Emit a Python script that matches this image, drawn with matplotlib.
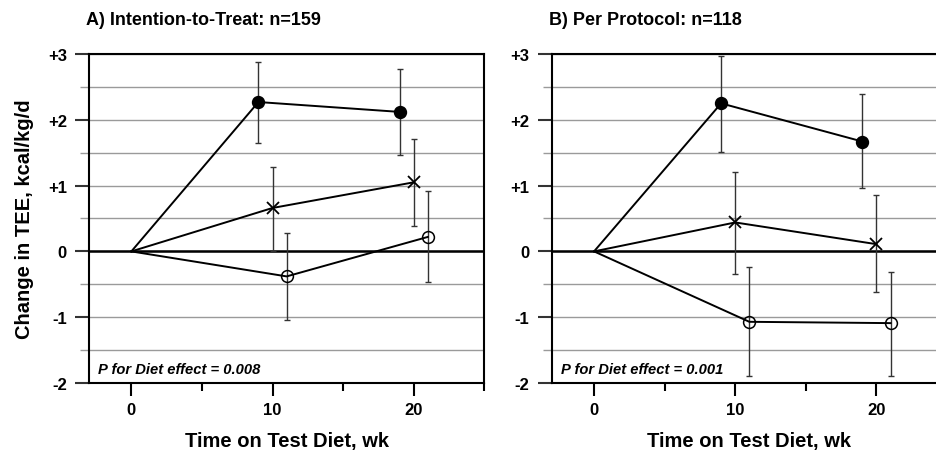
import numpy as np
import matplotlib
matplotlib.use('Agg')
import matplotlib.pyplot as plt
from matplotlib.ticker import MultipleLocator, FuncFormatter

plt.rcParams['font.family'] = ['Liberation Sans', 'DejaVu Sans']

# Data (weeks on test diet, change in TEE kcal/kg/d)
# A) Intention-to-Treat
a_fill_x = [0, 9, 19]
a_fill_y = [0, 2.27, 2.12]
a_fill_lo = [0, 1.64, 1.47]
a_fill_hi = [0, 2.88, 2.77]

a_x_x = [0, 10, 20]
a_x_y = [0, 0.66, 1.05]
a_x_lo = [0, 0.01, 0.38]
a_x_hi = [0, 1.29, 1.71]

a_open_x = [0, 11, 21]
a_open_y = [0, -0.38, 0.22]
a_open_lo = [0, -1.04, -0.46]
a_open_hi = [0, 0.28, 0.92]

# B) Per Protocol
b_fill_x = [0, 9, 19]
b_fill_y = [0, 2.25, 1.67]
b_fill_lo = [0, 1.51, 0.97]
b_fill_hi = [0, 2.97, 2.39]

b_x_x = [0, 10, 20]
b_x_y = [0, 0.44, 0.11]
b_x_lo = [0, -0.34, -0.61]
b_x_hi = [0, 1.20, 0.85]

b_open_x = [0, 11, 21]
b_open_y = [0, -1.07, -1.09]
b_open_lo = [0, -1.90, -1.90]
b_open_hi = [0, -0.24, -0.31]

titles = ['A) Intention-to-Treat: n=159', 'B) Per Protocol: n=118']
p_texts = ['P for Diet effect = 0.008', 'P for Diet effect = 0.001']


def draw_series(ax, x, y, lo, hi, marker, mfc):
    x = np.array(x)
    y = np.array(y)
    lo = np.array(lo)
    hi = np.array(hi)
    # error bars only for measured points (skip baseline)
    ax.errorbar(x[1:], y[1:], yerr=[y[1:] - lo[1:], hi[1:] - y[1:]],
                fmt='none', ecolor='#333333', elinewidth=1.0,
                capsize=2.2, capthick=1.0, zorder=3)
    ax.plot(x, y, color='black', lw=1.4, zorder=4)
    if marker == 'x':
        ax.plot(x[1:], y[1:], linestyle='none', marker='x', ms=8,
                mew=1.3, color='black', zorder=5)
    else:
        ax.plot(x[1:], y[1:], linestyle='none', marker='o', ms=8.5,
                mfc=mfc, mec='black', mew=1.1, zorder=5)


fig = plt.figure(figsize=(9.36, 4.56), dpi=100)
ax_a = fig.add_axes([89/936, 1-384/456, 395.3/936, 329/456])
ax_b = fig.add_axes([551.7/936, 1-384/456, 395.3/936, 329/456])

panels = [
    (ax_a, [(a_fill_x, a_fill_y, a_fill_lo, a_fill_hi, 'o', 'black'),
            (a_x_x, a_x_y, a_x_lo, a_x_hi, 'x', 'none'),
            (a_open_x, a_open_y, a_open_lo, a_open_hi, 'o', 'none')]),
    (ax_b, [(b_fill_x, b_fill_y, b_fill_lo, b_fill_hi, 'o', 'black'),
            (b_x_x, b_x_y, b_x_lo, b_x_hi, 'x', 'none'),
            (b_open_x, b_open_y, b_open_lo, b_open_hi, 'o', 'none')]),
]

fmt = FuncFormatter(lambda v, p: '0' if abs(v) < 1e-9 else ('%+d' % v))

for i, (ax, series) in enumerate(panels):
    for s in series:
        draw_series(ax, *s)
    ax.set_xlim(-3, 25)
    ax.set_ylim(-2, 3)
    ax.xaxis.set_major_locator(MultipleLocator(10))
    ax.xaxis.set_minor_locator(MultipleLocator(5))
    ax.yaxis.set_major_locator(MultipleLocator(1))
    ax.yaxis.set_minor_locator(MultipleLocator(0.5))
    ax.yaxis.set_major_formatter(fmt)
    ax.grid(True, which='both', axis='y', color='#9a9a9a', lw=1.0, zorder=1)
    ax.axhline(0, color='black', lw=1.8, zorder=2)
    ax.tick_params(axis='x', which='major', length=9, width=1.5, direction='out',
                   labelsize=12, pad=5)
    ax.tick_params(axis='x', which='minor', length=6, width=1.5, direction='out')
    ax.tick_params(axis='y', which='major', length=10, width=1.5, color='#333333',
                   labelsize=12, pad=6)
    ax.tick_params(axis='y', which='minor', length=6.5, width=1.0, color='#9a9a9a')
    for lab in ax.get_xticklabels() + ax.get_yticklabels():
        lab.set_fontweight('bold')
    for sp in ax.spines.values():
        sp.set_linewidth(1.5)
    ax.set_xlabel('Time on Test Diet, wk', fontsize=14.5, fontweight='bold', labelpad=10)
    ax.text(0.023, 0.03, p_texts[i], transform=ax.transAxes, fontsize=10.6,
            fontweight='bold', fontstyle='italic', va='baseline', ha='left')

ax_a.set_ylabel('Change in TEE, kcal/kg/d', fontsize=14.5, fontweight='bold', labelpad=10)

fig.text(86/936, 1-25/456, titles[0], fontsize=13, fontweight='bold', va='baseline')
fig.text(548.7/936, 1-25/456, titles[1], fontsize=13, fontweight='bold', va='baseline')

fig.savefig('out.png', dpi=100)
